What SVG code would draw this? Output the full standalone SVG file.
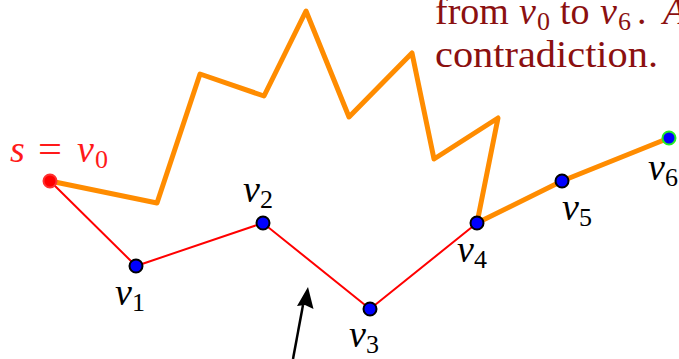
<svg xmlns="http://www.w3.org/2000/svg" width="679" height="359" viewBox="0 0 679 359">
<style>
.it{font-style:italic}
.sub{font-size:26px;font-style:normal}
.lbl{fill:#000}
.red{fill:#ff1a1a}
.note{fill:#8b1010}
.node{fill:#0000ff;stroke:#000;stroke-width:2}
</style>
<g id="note" font-family="Liberation Serif, DejaVu Serif, serif" font-size="38">
<text class="note" y="24"><tspan x="435">from</tspan><tspan class="it" x="519">v</tspan><tspan class="sub" x="537" dy="6">0</tspan><tspan x="560" dy="-6">to</tspan><tspan class="it" x="600">v</tspan><tspan class="sub" x="618" dy="6">6</tspan><tspan x="637" dy="-6">.</tspan><tspan class="it" x="663">A</tspan></text>
<text class="note" x="435" y="67" textLength="223" lengthAdjust="spacingAndGlyphs">contradiction.</text>
</g>
<g id="connectors">
<polyline points="50,181 136,266 263,223 370,309 477,223" fill="none" stroke="#ff0000" stroke-width="2"/>
<polyline points="50,181 157,203 200,74 264,96 306,11 349,117 412,53 434,159 498,118 477,223 562,181 669,138" fill="none" stroke="#ff8c00" stroke-width="5" stroke-linejoin="round" stroke-linecap="round"/>
<line x1="293" y1="359" x2="303" y2="305" stroke="#000" stroke-width="2.5"/>
<polygon points="308,287 313.5,309 305,305 297,306" fill="#000"/>
</g>
<g font-family="Liberation Serif, DejaVu Serif, serif" font-size="38">
<g id="v0"><circle cx="50" cy="181" r="6.5" fill="#ff0000" stroke="#ff3030" stroke-width="2"/><text class="red" y="162"><tspan class="it" x="10">s</tspan><tspan x="38" textLength="24" lengthAdjust="spacingAndGlyphs">=</tspan><tspan class="it" x="77">v</tspan><tspan class="sub" x="95" dy="6">0</tspan></text></g>
<g id="v1"><circle class="node" cx="136" cy="266" r="6.5"/><text class="lbl" x="115" y="305"><tspan class="it">v</tspan><tspan class="sub" dy="6">1</tspan></text></g>
<g id="v2"><circle class="node" cx="263" cy="223" r="6.5"/><text class="lbl" x="243" y="202"><tspan class="it">v</tspan><tspan class="sub" dy="6">2</tspan></text></g>
<g id="v3"><circle class="node" cx="370" cy="309" r="6.5"/><text class="lbl" x="349" y="347"><tspan class="it">v</tspan><tspan class="sub" dy="6">3</tspan></text></g>
<g id="v4"><circle class="node" cx="477" cy="223" r="6.5"/><text class="lbl" x="457" y="262"><tspan class="it">v</tspan><tspan class="sub" dy="6">4</tspan></text></g>
<g id="v5"><circle class="node" cx="562" cy="181" r="6.5"/><text class="lbl" x="562" y="220"><tspan class="it">v</tspan><tspan class="sub" dy="6">5</tspan></text></g>
<g id="v6"><circle cx="669" cy="138" r="6.5" fill="#0000ff" stroke="#22ee22" stroke-width="2"/><text class="lbl" x="648" y="180"><tspan class="it">v</tspan><tspan class="sub" dy="6">6</tspan></text></g>
</g>
</svg>
